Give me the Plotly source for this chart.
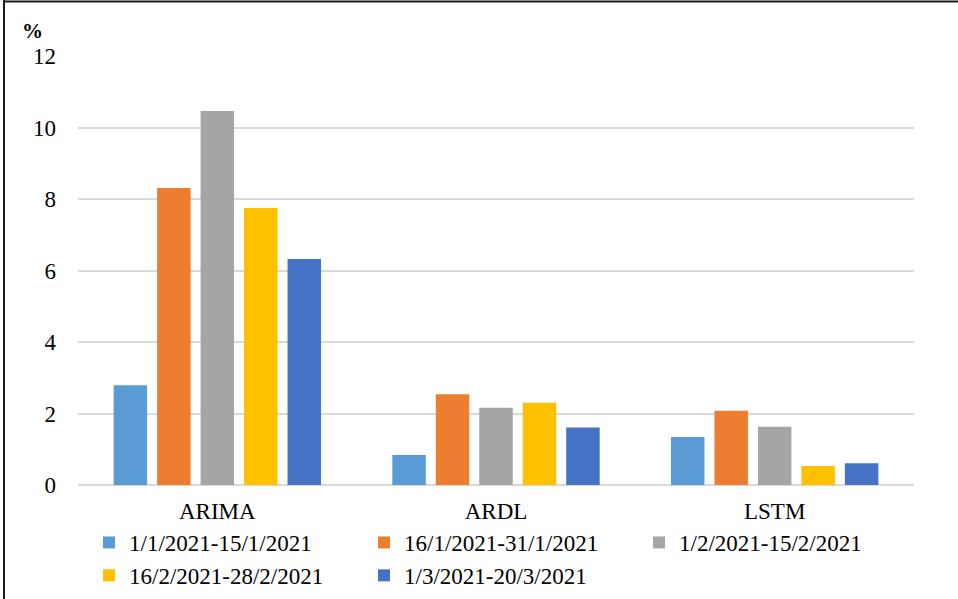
import plotly.graph_objects as go

# Error (%) of each forecasting model over five periods of 2021
models = ["ARIMA", "ARDL", "LSTM"]
periods = [
    "1/1/2021-15/1/2021",
    "16/1/2021-31/1/2021",
    "1/2/2021-15/2/2021",
    "16/2/2021-28/2/2021",
    "1/3/2021-20/3/2021",
]
values = [
    [2.79, 0.84, 1.34],
    [8.31, 2.54, 2.08],
    [10.46, 2.16, 1.63],
    [7.75, 2.30, 0.53],
    [6.32, 1.61, 0.61],
]
colors = ["#5B9BD5", "#ED7D31", "#A5A5A5", "#FFC000", "#4472C4"]
y_ticks = [0, 2, 4, 6, 8, 10, 12]

W, H = 958, 599
L, R, T, B = 78, 44, 56, 114
pw, ph = W - L - R, H - T - B


def px_x(x):
    return (x - L) / pw


def px_y(y):
    return (H - B - y) / ph


font = "Liberation Serif"

fig = go.Figure()
for name, vals, col in zip(periods, values, colors):
    fig.add_trace(go.Bar(x=models, y=vals, name=name, marker_color=col,
                         marker_line_width=0))

fig.update_layout(
    width=W, height=H,
    margin=dict(l=L, r=R, t=T, b=B, autoexpand=False),
    paper_bgcolor="white", plot_bgcolor="white",
    barmode="group", bargap=0.22, bargroupgap=0.23,
    font=dict(family=font, size=23, color="#000000"),
    showlegend=True,
    legend=dict(
        orientation="h", x=px_x(89), y=px_y(521), xanchor="left", yanchor="top",
        entrywidth=230, entrywidthmode="pixels", itemwidth=30,
        font=dict(family=font, size=23, color="#000000"),
        tracegroupgap=0, bgcolor="rgba(0,0,0,0)",
    ),
    xaxis=dict(showgrid=False, showline=False, ticks="", ticklabelstandoff=10,
               tickfont=dict(family=font, size=23)),
    yaxis=dict(range=[0, 12], tickvals=y_ticks, showgrid=True,
               gridcolor="#D9D9D9", gridwidth=1.5, zeroline=True,
               zerolinecolor="#D9D9D9", zerolinewidth=1.5, showline=False,
               ticks="", ticklabelstandoff=21,
               tickfont=dict(family=font, size=23)),
    annotations=[dict(text="<b>%</b>", x=px_x(32), y=px_y(31), xref="paper",
                      yref="paper", xanchor="center", yanchor="middle",
                      showarrow=False,
                      font=dict(family=font, size=21, color="#000000"))],
    shapes=[
        dict(type="line", xref="paper", yref="paper", x0=px_x(4), x1=px_x(4),
             y0=px_y(0), y1=px_y(H + 5), line=dict(color="#1a1a1a", width=2)),
        dict(type="line", xref="paper", yref="paper", x0=px_x(3), x1=px_x(W + 5),
             y0=px_y(1.5), y1=px_y(1.5), line=dict(color="#1a1a1a", width=2)),
    ],
)

fig.write_html("out.html")
